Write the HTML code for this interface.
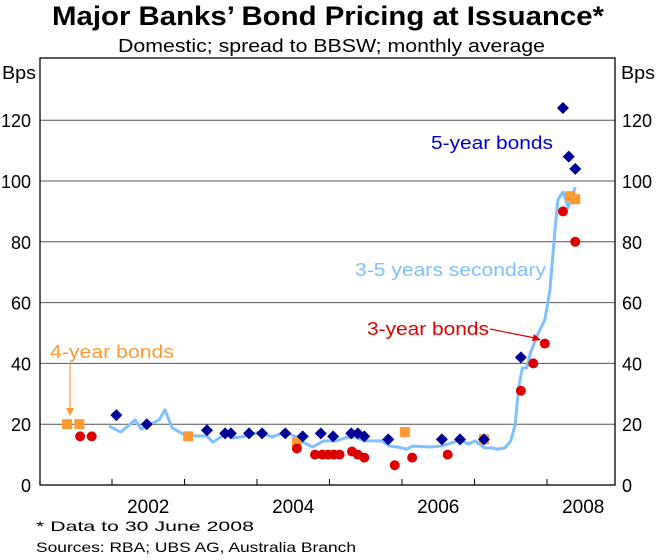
<!DOCTYPE html>
<html><head><meta charset="utf-8"><style>
body{margin:0;background:#fff;}
svg text{font-family:"Liberation Sans",Arial,sans-serif;}
</style></head><body>
<svg width="657" height="555" xmlns="http://www.w3.org/2000/svg" id="chart">
<text x="52" y="25" font-size="27" font-weight="bold" textLength="552" lengthAdjust="spacingAndGlyphs">Major Banks’ Bond Pricing at Issuance*</text>
<text x="118" y="52" font-size="18" textLength="427" lengthAdjust="spacingAndGlyphs">Domestic; spread to BBSW; monthly average</text>
<text x="2" y="79" font-size="18" textLength="34" lengthAdjust="spacingAndGlyphs">Bps</text>
<text x="621" y="79" font-size="18" textLength="34" lengthAdjust="spacingAndGlyphs">Bps</text>
<g id="grid"></g>
<g id="axes"></g>
<g id="series"></g>
<text x="431" y="149" font-size="18" fill="#0000CC" textLength="122" lengthAdjust="spacingAndGlyphs">5-year bonds</text>
<text x="355" y="276" font-size="18" fill="#80C0FF" textLength="191" lengthAdjust="spacingAndGlyphs">3-5 years secondary</text>
<text x="367" y="335" font-size="18" fill="#E00000" textLength="122" lengthAdjust="spacingAndGlyphs">3-year bonds</text>
<line x1="490" y1="329" x2="535" y2="338" stroke="#E00000" stroke-width="1.2"/>
<polygon points="541,340 532,341 534,334" fill="#E00000"/>
<text x="50" y="358" font-size="18" fill="#FF9933" textLength="124" lengthAdjust="spacingAndGlyphs">4-year bonds</text>
<line x1="70" y1="364" x2="70" y2="410" stroke="#FF9933" stroke-width="1.2"/>
<polygon points="66,408 74,408 70,416" fill="#FF9933"/>
<text x="36" y="531" font-size="14" textLength="218" lengthAdjust="spacingAndGlyphs">*   Data to 30 June 2008</text>
<text x="36" y="552" font-size="14" textLength="320" lengthAdjust="spacingAndGlyphs">Sources: RBA; UBS AG, Australia Branch</text>
</svg>
<script>
const yTicks=[0,20,40,60,80,100,120];
const xTickYears=[2002,2003,2004,2005,2006,2007,2008];
const yearLabels=["2002","2004","2006","2008"];
const yearLabelPos=[2002.5,2004.5,2006.5,2008.5];
const lineT=[2001.96,2002.12,2002.32,2002.40,2002.54,2002.65,2002.73,2002.83,2002.98,2003.17,2003.31,2003.39,2003.57,2003.67,2003.86,2004.03,2004.21,2004.39,2004.57,2004.63,2004.77,2004.92,2005.09,2005.26,2005.35,2005.49,2005.72,2005.83,2005.94,2006.06,2006.15,2006.39,2006.54,2006.68,2006.80,2006.92,2007.01,2007.14,2007.24,2007.32,2007.42,2007.50,2007.56,2007.61,2007.66,2007.72,2007.77,2007.88,2007.97,2008.04,2008.11,2008.15,2008.22,2008.26,2008.29,2008.39];
const lineV=[19.4,17.4,21.4,18.4,20.1,21.4,24.7,18.8,16.8,16.1,16.1,14.1,16.8,15.5,16.1,17.4,15.8,17.4,15.5,14.1,12.5,14.5,14.5,15.8,15.8,14.5,14.5,12.8,12.5,11.8,12.8,12.5,12.8,13.8,14.8,13.5,14.5,12.2,12.2,11.8,12.2,14.5,19.7,32.2,38.5,38.5,43.4,50,54.3,64.1,83.9,93.8,96.4,93.8,91.1,98];
const fourT=[2001.38,2001.55,2003.05,2004.55,2006.04,2007.13,2008.32,2008.39];
const fourV=[20,20,16,14,17.4,15,95,94];
const threeT=[2001.56,2001.72,2004.55,2004.80,2004.90,2004.98,2005.06,2005.14,2005.31,2005.39,2005.48,2005.90,2006.14,2006.63,2007.64,2007.81,2007.97,2008.22,2008.39];
const threeV=[16,16,12,10,10,10,10,10,11,10,9,6.5,9,10,31,40,46.5,90,80];
const fiveT=[2002.06,2002.48,2003.31,2003.56,2003.64,2003.89,2004.07,2004.39,2004.63,2004.88,2005.05,2005.30,2005.39,2005.48,2005.81,2006.55,2006.80,2007.13,2007.64,2008.22,2008.30,2008.39];
const fiveV=[23,20,18,17,17,17,17,17,16,17,16,17,17,16,15,15,15,15,42,124,108,104];

const L=40,R=615,T=58,B=485;
const x=t=>112+(t-2002)*72.5;
const y=v=>B-v*3.04;
const NS="http://www.w3.org/2000/svg";
function mk(tag,attrs,parent){const e=document.createElementNS(NS,tag);for(const k in attrs)e.setAttribute(k,attrs[k]);document.getElementById(parent).appendChild(e);return e;}
yTicks.forEach((v,i)=>{
  if(v>0){const g=mk('line',{x1:L,x2:R,y1:y(v),y2:y(v),stroke:'#555','stroke-width':1},'grid');
  
  }
  const a=mk('text',{x:31,y:y(v)+7,'text-anchor':'end','font-size':18},'axes');a.textContent=v;
  
  
  const b=mk('text',{x:622,y:y(v)+7,'font-size':18},'axes');b.textContent=v;
  
  
});
const box=mk('rect',{x:L,y:T,width:R-L,height:B-T,fill:'none',stroke:'#000','stroke-width':1.3},'axes');


xTickYears.forEach(t=>{const l=mk('line',{x1:x(t),x2:x(t),y1:B,y2:B-6,stroke:'#000'},'axes');
  
  });
yearLabels.forEach((s,i)=>{const e=mk('text',{x:x(yearLabelPos[i]),y:B+28,'text-anchor':'middle','font-size':19},'axes');e.textContent=s;
  
  });
const pl=mk('polyline',{points:lineT.map((t,i)=>x(t)+','+y(lineV[i])).join(' '),fill:'none',stroke:'#80C0FF','stroke-width':3,'stroke-linejoin':'round'},'series');


fourT.forEach((t,i)=>{const e=mk('rect',{x:x(t)-5,y:y(fourV[i])-5,width:10,height:10,fill:'#FF9933'},'series');
  
  });
threeT.forEach((t,i)=>{const e=mk('circle',{cx:x(t),cy:y(threeV[i]),r:5,fill:'#DD0000'},'series');
  
  });
fiveT.forEach((t,i)=>{const cx=x(t),cy=y(fiveV[i]);const e=mk('polygon',{points:`${cx},${cy-6} ${cx+6},${cy} ${cx},${cy+6} ${cx-6},${cy}`,fill:'#000099'},'series');
  
  });
</script>
</body></html>
